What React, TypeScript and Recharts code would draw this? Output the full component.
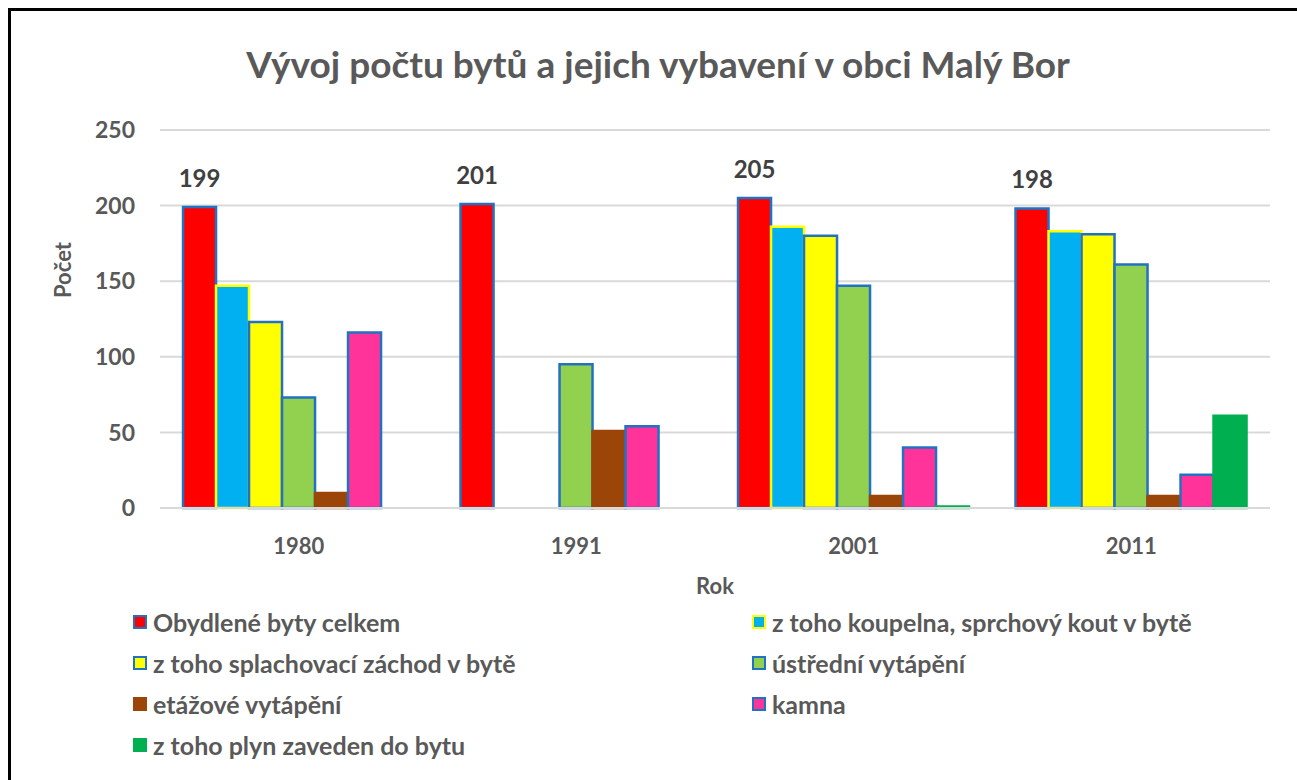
import React from 'react';
import { BarChart, Bar, XAxis, YAxis, CartesianGrid, Legend, LabelList, Label } from 'recharts';

const years = ['1980', '1991', '2001', '2011'];
const obydlene = [199, 201, 205, 198];
const koupelna = [147, 0, 186, 183];
const splachovaci = [123, 0, 180, 181];
const ustredni = [73, 95, 147, 161];
const etazove = [10, 51, 8, 8];
const kamna = [116, 54, 40, 22];
const plyn = [0, 0, 1, 61];
const yTicks = [0, 50, 100, 150, 200, 250];

const seriesNames = [
  'Obydlené byty celkem',
  'z toho koupelna, sprchový kout v bytě',
  'z toho splachovací záchod v bytě',
  'ústřední vytápění',
  'etážové vytápění',
  'kamna',
  'z toho plyn zaveden do bytu',
];
const seriesValues = [obydlene, koupelna, splachovaci, ustredni, etazove, kamna, plyn];
const seriesFill = ['#ff0000', '#00b0f0', '#ffff00', '#92d050', '#9c4508', '#ff3399', '#00b050'];
const seriesStroke = ['#2272c3', '#ffff00', '#2272c3', '#2272c3', '#9c4508', '#2272c3', '#00b050'];
const keys = ['s0', 's1', 's2', 's3', 's4', 's5', 's6'];

const data = years.map((y, i) => {
  const row: Record<string, string | number> = { year: y };
  keys.forEach((k, j) => {
    row[k] = seriesValues[j][i];
  });
  return row;
});

const FONT = 'Lato, "Open Sans", sans-serif';
const GRAY = '#595959';
const W = 1286;
const H = 769;

const renderLegend = () => (
  <div
    style={{
      display: 'grid',
      gridTemplateColumns: '619px 530px',
      gridAutoRows: '41px',
      fontFamily: FONT,
      fontSize: 25,
      fontWeight: 700,
      color: GRAY,
    }}
  >
    {seriesNames.map((n, i) => (
      <div key={n} style={{ display: 'flex', alignItems: 'center', whiteSpace: 'nowrap' }}>
        <span
          style={{
            display: 'inline-block',
            width: 10,
            height: 10,
            background: seriesFill[i],
            border: `2px solid ${seriesStroke[i]}`,
            marginRight: 6,
          }}
        />
        <span>{n}</span>
      </div>
    ))}
  </div>
);

const renderDataLabel = (props: any) => {
  const { x, y, width, value } = props;
  return (
    <text
      x={x + width / 2}
      y={y - 30}
      textAnchor="middle"
      dominantBaseline="central"
      fill="#404040"
      fontFamily={FONT}
      fontSize={24}
      fontWeight={700}
    >
      {value}
    </text>
  );
};

export default function App() {
  return (
    <div
      style={{
        position: 'fixed',
        left: 8,
        top: 8,
        width: W,
        height: H,
        borderTop: '3px solid #000',
        borderLeft: '3px solid #000',
        background: '#fff',
        overflow: 'hidden',
      }}
    >
      <div
        style={{
          position: 'absolute',
          left: 4,
          top: 30,
          width: W,
          textAlign: 'center',
          fontFamily: FONT,
          fontSize: 37,
          fontWeight: 700,
          color: GRAY,
          zIndex: 2,
          whiteSpace: 'nowrap',
        }}
      >
        Vývoj počtu bytů a jejich vybavení v obci Malý Bor
      </div>
      <BarChart
        width={W}
        height={H}
        data={data}
        margin={{ top: 119, right: 27, left: 0, bottom: 0 }}
        barCategoryGap="8.3%"
        barGap={0}
      >
        <CartesianGrid vertical={false} stroke="#d9d9d9" strokeWidth={2} />
        <XAxis
          dataKey="year"
          height={272}
          tickLine={false}
          tickSize={0}
          tickMargin={30}
          axisLine={{ stroke: '#d9d9d9', strokeWidth: 2 }}
          tick={{ fill: GRAY, fontFamily: FONT, fontSize: 22, fontWeight: 700 }}
        >
          <Label
            content={(p: any) => {
              const vb = p.viewBox;
              return (
                <text
                  x={vb.x + vb.width / 2}
                  y={vb.y + 77}
                  textAnchor="middle"
                  dominantBaseline="central"
                  fill={GRAY}
                  fontFamily={FONT}
                  fontSize={22}
                  fontWeight={700}
                >
                  Rok
                </text>
              );
            }}
          />
        </XAxis>
        <YAxis
          width={149}
          domain={[0, 250]}
          ticks={yTicks}
          interval={0}
          axisLine={false}
          tickLine={false}
          tickSize={0}
          tickMargin={25}
          tick={{ fill: GRAY, fontFamily: FONT, fontSize: 23, fontWeight: 700 }}
        >
          <Label
            content={(p: any) => {
              const vb = p.viewBox;
              const cx = vb.x + 51;
              const cy = vb.y + 140;
              return (
                <text
                  x={cx}
                  y={cy}
                  textAnchor="middle"
                  dominantBaseline="central"
                  transform={`rotate(-90, ${cx}, ${cy})`}
                  fill={GRAY}
                  fontFamily={FONT}
                  fontSize={22}
                  fontWeight={700}
                >
                  Počet
                </text>
              );
            }}
          />
        </YAxis>
        <Legend
          layout="horizontal"
          verticalAlign="middle"
          align="center"
          content={renderLegend}
          wrapperStyle={{ left: 122, top: 590, width: 1150 }}
        />
        {keys.map((k, i) => (
          <Bar
            key={k}
            dataKey={k}
            name={seriesNames[i]}
            fill={seriesFill[i]}
            stroke={seriesStroke[i]}
            strokeWidth={2.5}
            isAnimationActive={false}
          >
            {i === 0 && <LabelList dataKey={k} content={renderDataLabel} />}
          </Bar>
        ))}
      </BarChart>
    </div>
  );
}
